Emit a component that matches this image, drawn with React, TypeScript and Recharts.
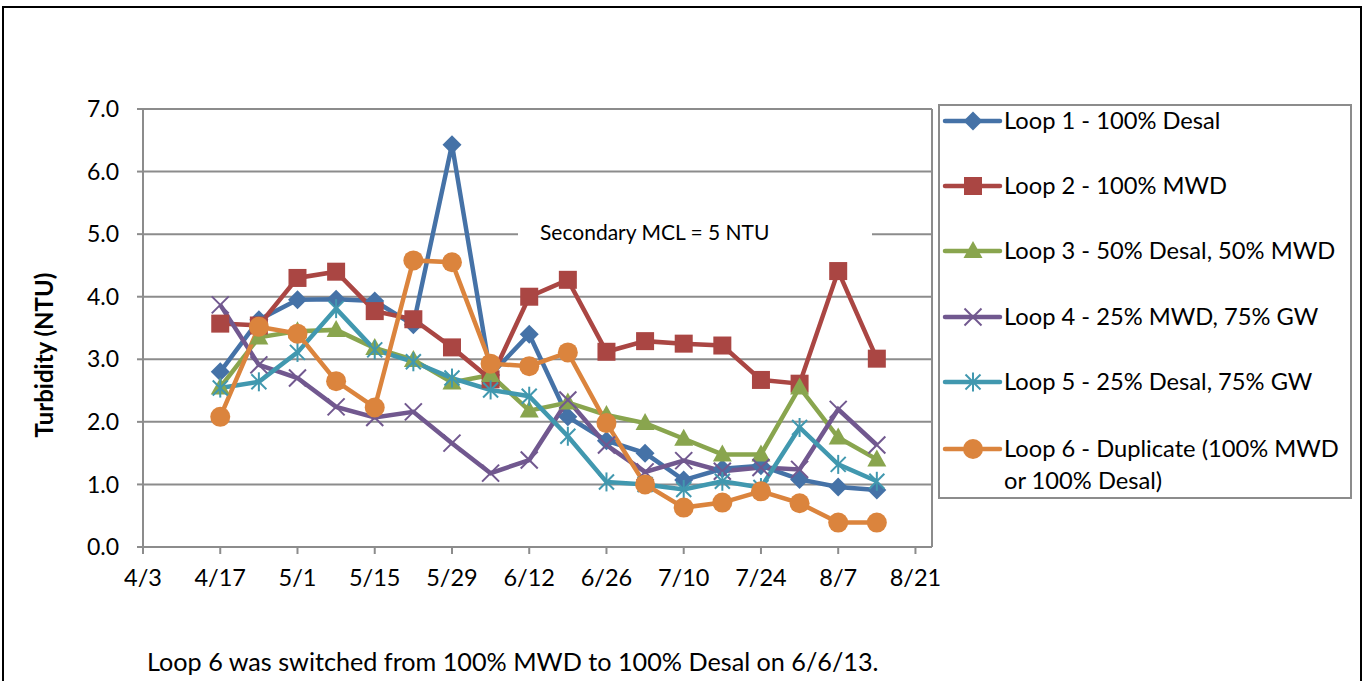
import { LineChart, Line, XAxis, YAxis, CartesianGrid, ReferenceLine } from "recharts";

// weekly sampling dates (2013)
const sampleDates = [
  "4/17", "4/24", "5/1", "5/8", "5/15", "5/22", "5/29", "6/5", "6/12",
  "6/19", "6/26", "7/3", "7/10", "7/17", "7/24", "7/31", "8/7", "8/14",
];

const loop1 = [2.8, 3.63, 3.95, 3.96, 3.93, 3.55, 6.43, 2.75, 3.4, 2.08, 1.7, 1.5, 1.07, 1.25, 1.3, 1.08, 0.96, 0.91];
const loop2 = [3.57, 3.54, 4.3, 4.4, 3.77, 3.64, 3.19, 2.68, 4.0, 4.27, 3.12, 3.29, 3.25, 3.22, 2.67, 2.61, 4.41, 3.01];
const loop3 = [2.55, 3.35, 3.45, 3.47, 3.18, 2.99, 2.63, 2.75, 2.18, 2.31, 2.11, 1.98, 1.73, 1.48, 1.48, 2.55, 1.75, 1.4];
const loop4 = [3.87, 2.91, 2.7, 2.24, 2.07, 2.16, 1.66, 1.18, 1.39, 2.35, 1.63, 1.2, 1.38, 1.21, 1.27, 1.24, 2.2, 1.63];
const loop5 = [2.54, 2.64, 3.11, 3.81, 3.15, 2.96, 2.7, 2.51, 2.41, 1.77, 1.04, 1.0, 0.92, 1.05, 0.95, 1.91, 1.32, 1.05];
const loop6 = [2.08, 3.52, 3.41, 2.65, 2.23, 4.58, 4.55, 2.93, 2.89, 3.11, 1.98, 1.0, 0.63, 0.71, 0.89, 0.7, 0.39, 0.39];

const xTicks = ["4/3", "4/17", "5/1", "5/15", "5/29", "6/12", "6/26", "7/10", "7/24", "8/7", "8/21"];
const axisEnd = "8/24";
const yTicks = [0, 1, 2, 3, 4, 5, 6, 7];

const FONT = "Lato, 'Liberation Sans', sans-serif";
const GRID = "#8c8c8c";

const dayOf = (md: string) => {
  const [m, d] = md.split("/").map(Number);
  return Date.UTC(2013, m - 1, d) / 86400000;
};
const fmtDay = (day: number) => {
  const dt = new Date(day * 86400000);
  return `${dt.getUTCMonth() + 1}/${dt.getUTCDate()}`;
};

type MarkerKind = "diamond" | "square" | "triangle" | "x" | "star" | "circle";

const series: { key: string; name: string; color: string; marker: MarkerKind; values: number[] }[] = [
  { key: "loop1", name: "Loop 1 - 100% Desal", color: "#4572A7", marker: "diamond", values: loop1 },
  { key: "loop2", name: "Loop 2 - 100% MWD", color: "#AA4643", marker: "square", values: loop2 },
  { key: "loop3", name: "Loop 3 - 50% Desal, 50% MWD", color: "#89A54E", marker: "triangle", values: loop3 },
  { key: "loop4", name: "Loop 4 - 25% MWD, 75% GW", color: "#71588F", marker: "x", values: loop4 },
  { key: "loop5", name: "Loop 5 - 25% Desal, 75% GW", color: "#4198AF", marker: "star", values: loop5 },
  { key: "loop6", name: "Loop 6 - Duplicate (100% MWD|or 100% Desal)", color: "#DB843D", marker: "circle", values: loop6 },
];

const rows = sampleDates.map((d, i) => {
  const row: Record<string, number> = { day: dayOf(d) };
  series.forEach((s) => (row[s.key] = s.values[i]));
  return row;
});

function Marker({ kind, cx, cy, color }: { kind: MarkerKind; cx: number; cy: number; color: string }) {
  if (cx == null || cy == null) return null;
  switch (kind) {
    case "diamond":
      return <polygon points={`${cx},${cy - 9.5} ${cx + 9.5},${cy} ${cx},${cy + 9.5} ${cx - 9.5},${cy}`} fill={color} />;
    case "square":
      return <rect x={cx - 9} y={cy - 9} width={18} height={18} fill={color} />;
    case "triangle":
      return <polygon points={`${cx},${cy - 10} ${cx + 9.5},${cy + 7} ${cx - 9.5},${cy + 7}`} fill={color} />;
    case "x":
      return (
        <g stroke={color} strokeWidth={2}>
          <line x1={cx - 8.5} y1={cy - 8.5} x2={cx + 8.5} y2={cy + 8.5} />
          <line x1={cx - 8.5} y1={cy + 8.5} x2={cx + 8.5} y2={cy - 8.5} />
        </g>
      );
    case "star":
      return (
        <g stroke={color} strokeWidth={2}>
          <line x1={cx - 7.5} y1={cy - 7.5} x2={cx + 7.5} y2={cy + 7.5} />
          <line x1={cx - 7.5} y1={cy + 7.5} x2={cx + 7.5} y2={cy - 7.5} />
          <line x1={cx} y1={cy - 9.5} x2={cx} y2={cy + 9.5} />
        </g>
      );
    default:
      return <circle cx={cx} cy={cy} r={10} fill={color} />;
  }
}

const legendRows = [121, 186, 251, 317, 382, 449];

function LegendBox() {
  return (
    <>
      <div
        style={{
          position: "absolute",
          left: 938,
          top: 104,
          width: 410,
          height: 391,
          border: `2px solid ${GRID}`,
          background: "#fff",
        }}
      />
      {series.map((s, i) => {
        const lines = s.name.split("|");
        return (
          <div key={s.key}>
            <svg style={{ position: "absolute", left: 942, top: legendRows[i] - 12 }} width={62} height={24}>
              <line x1={3} y1={12} x2={58} y2={12} stroke={s.color} strokeWidth={4.5} strokeLinecap="round" />
              <Marker kind={s.marker} cx={31} cy={12} color={s.color} />
            </svg>
            <div
              style={{
                position: "absolute",
                left: 1004,
                top: legendRows[i] - 17,
                fontFamily: FONT,
                fontSize: 23.7,
                lineHeight: "32px",
                color: "#000",
                whiteSpace: "nowrap",
              }}
            >
              {lines.map((l, j) => (
                <div key={j}>{l}</div>
              ))}
            </div>
          </div>
        );
      })}
    </>
  );
}

export default function App() {
  return (
    <div style={{ position: "absolute", left: 0, top: 0, width: 1365, height: 681, overflow: "hidden", background: "#fff" }}>
      <div
        style={{
          position: "absolute",
          left: 2,
          top: 6,
          width: 1356,
          height: 700,
          border: "2px solid #000",
        }}
      />
      <LineChart
        width={1365}
        height={681}
        data={rows}
        margin={{ top: 109, right: 433, bottom: 94, left: 0 }}
        style={{ position: "absolute", left: 0, top: 0 }}
      >
        <CartesianGrid vertical={false} stroke={GRID} strokeWidth={2} />
        <XAxis
          dataKey="day"
          type="number"
          domain={[dayOf(xTicks[0]), dayOf(axisEnd)]}
          ticks={xTicks.map(dayOf)}
          tickFormatter={fmtDay}
          interval={0}
          height={40}
          tickSize={7}
          tickMargin={15}
          axisLine={{ stroke: GRID, strokeWidth: 2 }}
          tickLine={{ stroke: GRID, strokeWidth: 2 }}
          tick={{ fill: "#000", fontSize: 23.5, fontFamily: FONT }}
        />
        <YAxis
          type="number"
          domain={[0, 7]}
          ticks={yTicks}
          tickFormatter={(v: number) => v.toFixed(1)}
          width={143}
          tickSize={6}
          tickMargin={18}
          axisLine={{ stroke: GRID, strokeWidth: 2 }}
          tickLine={{ stroke: GRID, strokeWidth: 2 }}
          tick={{ fill: "#000", fontSize: 23, fontFamily: FONT }}
        />
        <ReferenceLine x={dayOf(axisEnd)} stroke={GRID} strokeWidth={2} />
        {series.map((s) => (
          <Line
            key={s.key}
            dataKey={s.key}
            name={s.name}
            stroke={s.color}
            strokeWidth={4.5}
            isAnimationActive={false}
            dot={(p: any) => <Marker key={`${s.key}-${p.index}`} kind={s.marker} cx={p.cx} cy={p.cy} color={s.color} />}
            activeDot={false}
          />
        ))}
      </LineChart>
      <div
        style={{
          position: "absolute",
          left: 518,
          top: 217,
          width: 332,
          paddingLeft: 22,
          height: 32,
          background: "#fff",
          fontFamily: FONT,
          fontSize: 21,
          lineHeight: "30px",
          color: "#000",
        }}
      >
        Secondary MCL = 5 NTU
      </div>
      <div
        style={{
          position: "absolute",
          left: 43,
          top: 355,
          transform: "translate(-50%, -50%) rotate(-90deg)",
          fontFamily: FONT,
          fontWeight: 700,
          fontSize: 24,
          whiteSpace: "nowrap",
          color: "#000",
        }}
      >
        Turbidity (NTU)
      </div>
      <div
        style={{
          position: "absolute",
          left: 147,
          top: 645,
          fontFamily: FONT,
          fontSize: 25.2,
          lineHeight: "32px",
          color: "#000",
          whiteSpace: "nowrap",
        }}
      >
        Loop 6 was switched from 100% MWD to 100% Desal on 6/6/13.
      </div>
      <LegendBox />
    </div>
  );
}
